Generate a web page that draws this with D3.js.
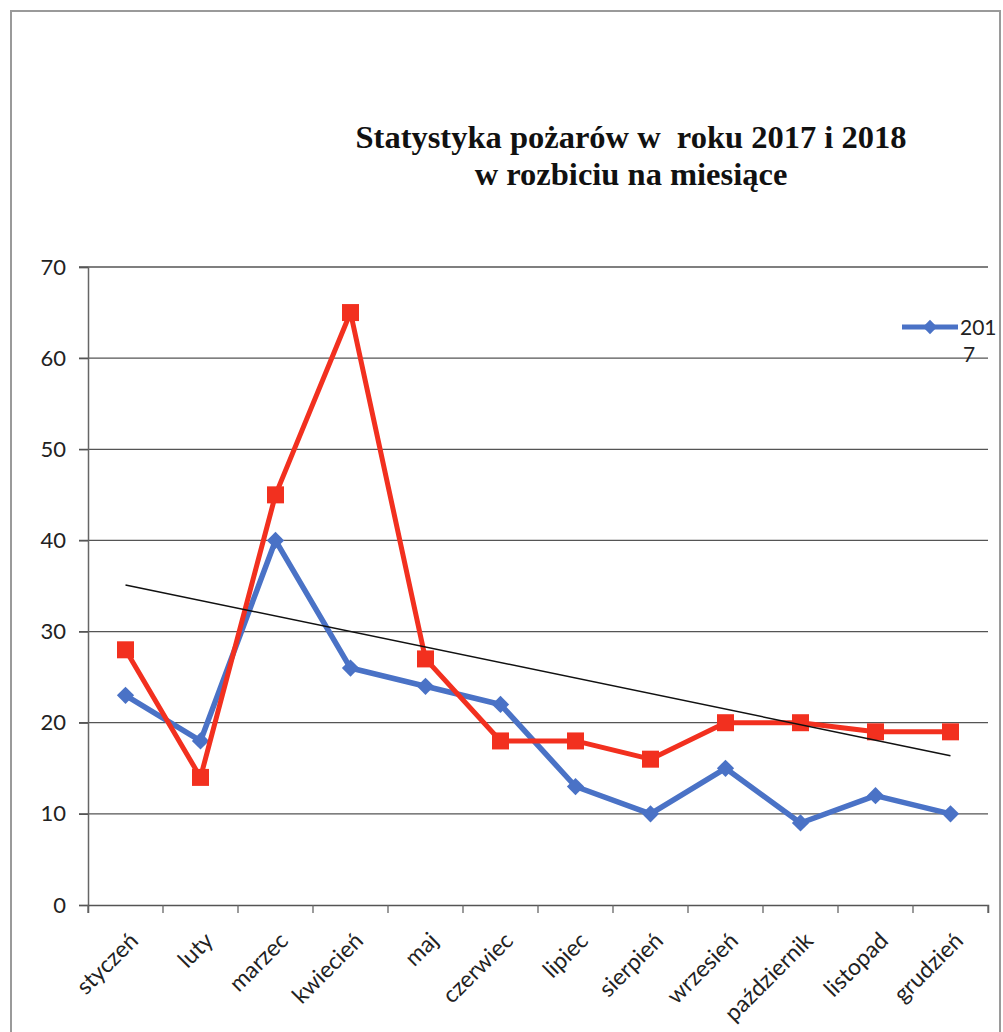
<!DOCTYPE html>
<html>
<head>
<meta charset="utf-8">
<script src="https://cdn.jsdelivr.net/npm/d3@7"></script>
<style>
  html, body { margin: 0; padding: 0; background: #fff; }
  svg { display: block; }
</style>
</head>
<body>
<svg id="chart" width="1003" height="1032"></svg>
<script>
const months = ["styczeń","luty","marzec","kwiecień","maj","czerwiec","lipiec","sierpień","wrzesień","październik","listopad","grudzień"];
const values2017 = [23, 18, 40, 26, 24, 22, 13, 10, 15, 9, 12, 10];
const values2018 = [28, 14, 45, 65, 27, 18, 18, 16, 20, 20, 19, 19];
const yTicks = [0, 10, 20, 30, 40, 50, 60, 70];
const titleLines = ["Statystyka pożarów w  roku 2017 i 2018", "w rozbiciu na miesiące"];
const legendLabel = ["201", "7"];

(function () {
const svg = d3.select("#chart");

// outer frame
svg.append("rect").attr("x", 11).attr("y", 11).attr("width", 989).attr("height", 1040)
  .attr("fill", "#fff").attr("stroke", "#9a9a9a").attr("stroke-width", 2);

const pL = 88, pR = 988, pT = 267, pB = 905;
const x = d3.scaleBand().domain(months).range([pL, pR]).padding(0);
const y = d3.scaleLinear().domain([0, 70]).range([pB, pT]);
const cx = m => x(m) + x.bandwidth() / 2;

// title
const title = svg.append("text").attr("text-anchor", "middle")
  .attr("font-family", "'Liberation Serif', 'Times New Roman', serif")
  .attr("font-weight", "bold").attr("font-size", 32.5).attr("fill", "#111");
titleLines.forEach((t, i) => {
  title.append("tspan").attr("x", 631).attr("y", 148 + i * 37).attr("xml:space", "preserve").text(t);
});

// gridlines
svg.append("g").selectAll("line").data(yTicks.filter(d => d > 0)).join("line")
  .attr("x1", pL - 9).attr("x2", pR).attr("y1", d => y(d)).attr("y2", d => y(d))
  .attr("stroke", "#555").attr("stroke-width", 1.3);

// y axis
const yAxis = svg.append("g").attr("transform", `translate(${pL},0)`)
  .call(d3.axisLeft(y).tickValues(yTicks).tickSize(9).tickPadding(13));
yAxis.select(".domain").attr("stroke", "#666").attr("stroke-width", 1.5);
yAxis.selectAll(".tick line").attr("stroke", "#555").attr("stroke-width", 1.3);
yAxis.selectAll("text").attr("font-family", "Lato, 'Open Sans', sans-serif")
  .attr("font-size", 22).attr("fill", "#222");

// x axis
const xAxis = svg.append("g").attr("transform", `translate(0,${pB})`)
  .call(d3.axisBottom(x).tickSize(8).tickFormat(""));
xAxis.select(".domain").attr("stroke", "#555").attr("stroke-width", 1.5);
xAxis.selectAll(".tick").remove();
const bounds = months.map(m => x(m)).concat([pR]);
xAxis.selectAll("line.bt").data(bounds).join("line").attr("class", "bt")
  .attr("x1", d => d).attr("x2", d => d).attr("y1", 0).attr("y2", 8)
  .attr("stroke", "#666").attr("stroke-width", 1.3);
svg.append("g").selectAll("text").data(months).join("text")
  .attr("transform", d => `translate(${cx(d) + 10},${pB + 33}) rotate(-45)`)
  .attr("text-anchor", "end").attr("dominant-baseline", "middle")
  .attr("font-family", "Lato, 'Open Sans', sans-serif").attr("font-size", 23).attr("fill", "#222")
  .text(d => d);

// 2017 line (blue)
const line = d3.line().x((d, i) => cx(months[i])).y(d => y(d));
svg.append("path").datum(values2017).attr("d", line)
  .attr("fill", "none").attr("stroke", "#4a72c6").attr("stroke-width", 5.5).attr("stroke-linejoin", "round");
svg.append("g").selectAll("path").data(values2017).join("path")
  .attr("d", d3.symbol(d3.symbolDiamond2, 190))
  .attr("transform", (d, i) => `translate(${cx(months[i])},${y(d)})`)
  .attr("fill", "#4a72c6");

// 2018 line (red)
svg.append("path").datum(values2018).attr("d", line)
  .attr("fill", "none").attr("stroke", "#f2301f").attr("stroke-width", 5).attr("stroke-linejoin", "round");
svg.append("g").selectAll("rect").data(values2018).join("rect")
  .attr("x", (d, i) => cx(months[i]) - 8.5).attr("y", d => y(d) - 8.5)
  .attr("width", 17).attr("height", 17).attr("fill", "#f2301f");

// linear trend of 2018
const xs = values2018.map((d, i) => i + 1);
const mx = d3.mean(xs), my = d3.mean(values2018);
const slope = d3.sum(xs, (xi, i) => (xi - mx) * (values2018[i] - my)) / d3.sum(xs, xi => (xi - mx) ** 2);
const icpt = my - slope * mx;
svg.append("line")
  .attr("x1", cx(months[0])).attr("y1", y(icpt + slope * 1))
  .attr("x2", cx(months[11])).attr("y2", y(icpt + slope * 12))
  .attr("stroke", "#111").attr("stroke-width", 1.5);

// legend (clipped)
const lg = svg.append("g");
lg.append("line").attr("x1", 902).attr("x2", 958).attr("y1", 327).attr("y2", 327)
  .attr("stroke", "#4a72c6").attr("stroke-width", 5);
lg.append("path").attr("d", d3.symbol(d3.symbolDiamond2, 130))
  .attr("transform", "translate(930,327)").attr("fill", "#4a72c6");
lg.append("text").attr("x", 960).attr("y", 335)
  .attr("font-family", "Lato, 'Open Sans', sans-serif").attr("font-size", 21).attr("fill", "#222")
  .text(legendLabel[0]);
lg.append("text").attr("x", 963).attr("y", 362)
  .attr("font-family", "Lato, 'Open Sans', sans-serif").attr("font-size", 21).attr("fill", "#222")
  .text(legendLabel[1]);
})();
</script>
</body>
</html>
